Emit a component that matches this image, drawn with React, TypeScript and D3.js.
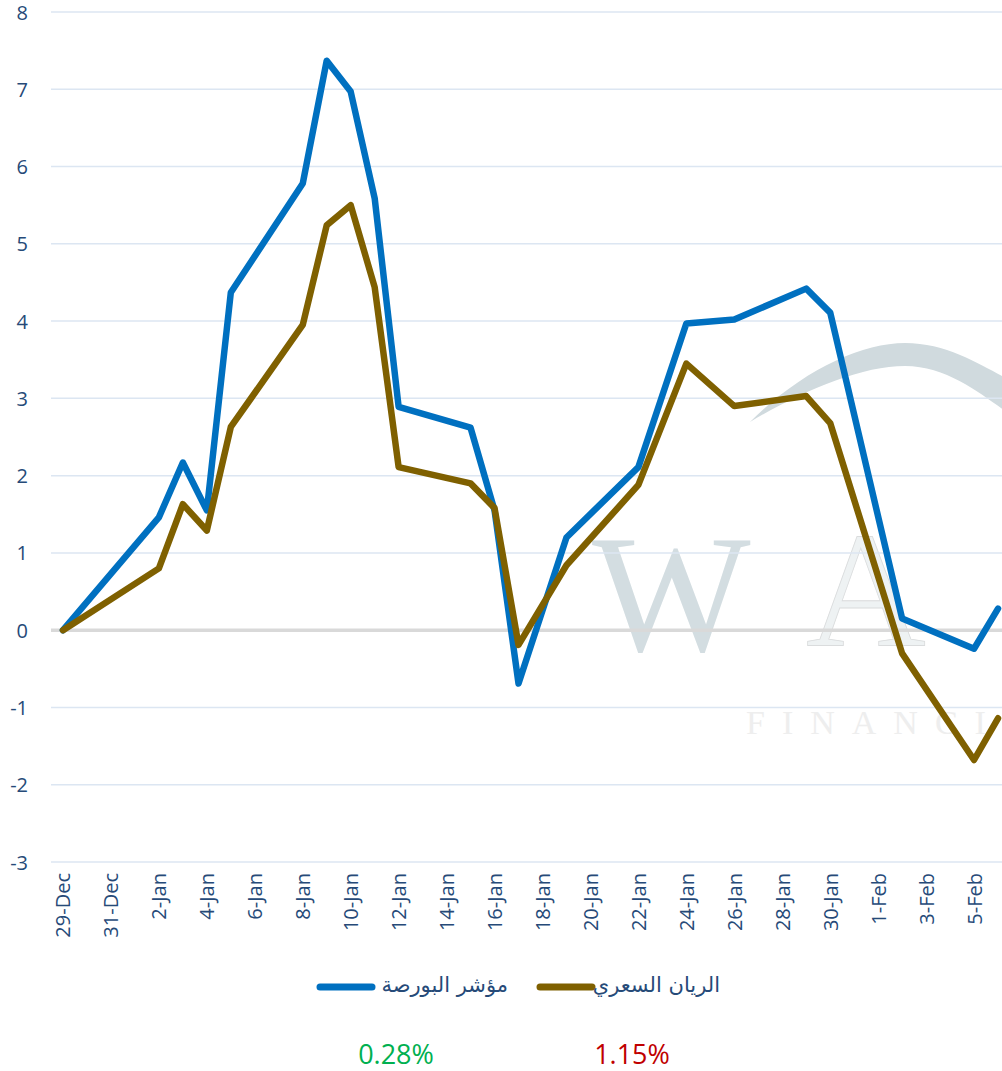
import React from "react";
import * as d3 from "d3";

// trading days shown on the chart
const dates = [
  "2016-12-29", "2017-01-02", "2017-01-03", "2017-01-04", "2017-01-05",
  "2017-01-08", "2017-01-09", "2017-01-10", "2017-01-11", "2017-01-12",
  "2017-01-15", "2017-01-16", "2017-01-17", "2017-01-19", "2017-01-22",
  "2017-01-24", "2017-01-26", "2017-01-29", "2017-01-30", "2017-02-02",
  "2017-02-05", "2017-02-06",
];

// مؤشر البورصة (cumulative %)
const indexValues = [
  0, 1.46, 2.17, 1.55, 4.37, 5.78, 7.37, 6.97, 5.59, 2.89, 2.62, 1.55, -0.69,
  1.2, 2.11, 3.97, 4.02, 4.42, 4.11, 0.15, -0.24, 0.28,
];

// الريان السعري (cumulative %)
const rayanValues = [
  0, 0.8, 1.63, 1.29, 2.63, 3.95, 5.24, 5.5, 4.44, 2.11, 1.9, 1.58, -0.19,
  0.84, 1.88, 3.45, 2.9, 3.03, 2.68, -0.3, -1.68, -1.14,
];

const tickDates = [
  "2016-12-29", "2016-12-31", "2017-01-02", "2017-01-04", "2017-01-06",
  "2017-01-08", "2017-01-10", "2017-01-12", "2017-01-14", "2017-01-16",
  "2017-01-18", "2017-01-20", "2017-01-22", "2017-01-24", "2017-01-26",
  "2017-01-28", "2017-01-30", "2017-02-01", "2017-02-03", "2017-02-05",
];

const yTicks = [-3, -2, -1, 0, 1, 2, 3, 4, 5, 6, 7, 8];

const seriesNames = ["مؤشر البورصة", "الريان السعري"];
const changeLabels = ["0.28%", "1.15%"];

const parse = d3.timeParse("%Y-%m-%d");
const fmt = d3.timeFormat("%-d-%b");

const W = 1002;
const H = 1071;
const axisColor = "#264a78";
const blue = "#0070c0";
const brown = "#7f6000";

type Pt = { date: Date; value: number };

const App: React.FC = () => {
  const pts = (vals: number[]): Pt[] =>
    dates.map((d, i) => ({ date: parse(d)!, value: vals[i] }));
  const indexData = pts(indexValues);
  const rayanData = pts(rayanValues);

  const xScale = d3
    .scaleTime()
    .domain([new Date(2016, 11, 28, 12), new Date(2017, 1, 6, 12)])
    .range([51, 1010]);

  const yScale = d3.scaleLinear().domain([-3, 8]).range([862, 12]);

  const lineDef = d3
    .line<Pt>()
    .x((d) => xScale(d.date))
    .y((d) => yScale(d.value));

  return (
    <svg
      width={W}
      height={H}
      style={{ position: "absolute", left: 0, top: 0, background: "white" }}
    >
      {/* watermark */}
      <g>
        <path
          d="M750,422 C800,372 860,343 905,343 C950,343 985,368 1010,380 L1010,414 C985,398 950,366 905,366 C860,366 800,392 750,422 Z"
          fill="#d0dade"
        />
        <text
          x={592}
          y={650}
          fontFamily="Liberation Serif"
          fontSize={168}
          fill="#d3dde1"
        >
          W
        </text>
        <text
          x={806}
          y={646}
          fontFamily="Liberation Serif"
          fontSize={166}
          fill="#eef2f3"
          stroke="#dadcdd"
          strokeWidth={0.8}
        >
          A
        </text>
        <text
          x={746}
          y={734}
          fontFamily="Liberation Serif"
          fontSize={34}
          letterSpacing={17}
          fill="#eeeeee"
        >
          FINANCIAL
        </text>
      </g>

      {/* grid */}
      <g>
        {yTicks.map((t) => (
          <line
            key={t}
            x1={51}
            x2={W}
            y1={yScale(t)}
            y2={yScale(t)}
            stroke={t === 0 ? "#d9d9d9" : "#dce6f2"}
            strokeWidth={t === 0 ? 3.5 : 1.5}
          />
        ))}
      </g>

      {/* y axis labels */}
      <g fontFamily="Open Sans" fontSize={20} fill={axisColor}>
        {yTicks.map((t) => (
          <text
            key={t}
            x={28}
            y={yScale(t)}
            textAnchor="end"
            dominantBaseline="central"
          >
            {t}
          </text>
        ))}
      </g>

      {/* x axis labels */}
      <g fontFamily="Open Sans" fontSize={20} fill={axisColor}>
        {tickDates.map((d) => {
          const x = xScale(parse(d)!);
          return (
            <text
              key={d}
              transform={`translate(${x},873) rotate(-90)`}
              textAnchor="end"
              dominantBaseline="central"
            >
              {fmt(parse(d)!)}
            </text>
          );
        })}
      </g>

      {/* lines */}
      <path
        d={lineDef(indexData)!}
        fill="none"
        stroke={blue}
        strokeWidth={6.5}
        strokeLinejoin="round"
        strokeLinecap="round"
      />
      <path
        d={lineDef(rayanData)!}
        fill="none"
        stroke={brown}
        strokeWidth={6.5}
        strokeLinejoin="round"
        strokeLinecap="round"
      />

      {/* legend */}
      <g fontFamily="DejaVu Sans" fontSize={21} fill={axisColor}>
        <line x1={320} x2={372} y1={987} y2={987} stroke={blue} strokeWidth={7} strokeLinecap="round" />
        <text x={508} y={985} textAnchor="end" dominantBaseline="central">
          {seriesNames[0]}
        </text>
        <line x1={540} x2={592} y1={987} y2={987} stroke={brown} strokeWidth={7} strokeLinecap="round" />
        <text x={720} y={985} textAnchor="end" dominantBaseline="central">
          {seriesNames[1]}
        </text>
      </g>

      {/* change labels */}
      <g fontFamily="Open Sans" fontSize={27} textAnchor="middle">
        <text x={396} y={1064} fill="#00b050">
          {changeLabels[0]}
        </text>
        <text x={632} y={1064} fill="#c00000">
          {changeLabels[1]}
        </text>
      </g>
    </svg>
  );
};

export default App;
